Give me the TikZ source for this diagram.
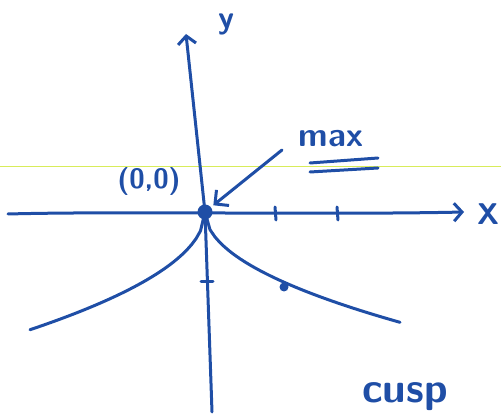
\documentclass[tikz,border=0pt]{standalone}
\usepackage{xcolor}
\usepackage{tikz}
\usetikzlibrary{arrows.meta}
\definecolor{penblue}{HTML}{1F4EA6}
\definecolor{ruleyellow}{HTML}{D8EC5A}

\begin{document}
\begin{tikzpicture}[x=1pt,y=-1pt,
    pen/.style   = {penblue,line width=3pt,line cap=round,line join=round},
    axis/.style  = {pen,-{Straight Barb[length=8pt,width=18pt]}},
    pt/.style    = {pen,-{Straight Barb[length=10pt,width=20pt]},shorten >=3pt},
    dot/.style   = {circle,fill=penblue,inner sep=0pt},
    lab/.style   = {text=penblue,font=\sffamily\bfseries},
  ]
  \useasboundingbox (0,0) rectangle (501,419);

  % faint ruled line of the scan
  \draw[ruleyellow,line width=0.8pt] (0,166) -- (501,166);

  \node[dot,minimum size=15pt] (o) at (205,212) {};
  \coordinate (xl) at (8,214);
  \coordinate (xr) at (464,212);
  \coordinate (yb) at (212,412);
  \coordinate (yt) at (186,34);

  % axes
  \draw[axis] (xl) .. controls (120,211) and (330,215) .. (xr);
  \draw[axis] (yb) -- (o.center) -- (yt);
  \node[lab,font=\sffamily\bfseries\fontsize{30}{30}\selectfont] (xlab) at (488,214) {X};
  \node[lab,font=\sffamily\bfseries\fontsize{32}{32}\selectfont] (ylab) at (226,24) {y};

  % ticks
  \foreach \t in {275,337}
    \draw[pen] (\t,207) -- (\t+1,220);
  \draw[pen] (201,282) -- (213,282);

  % cusp branches
  \draw[pen] plot[domain=0:175,samples=40] ({205-\x},{212+8.9*sqrt(\x)});
  \draw[pen] plot[domain=0:195,samples=40] ({205+\x},{212+7.9*sqrt(\x)});
  \node[dot,minimum size=9pt] (p) at (284,287) {};

  % labels
  \node[lab,font=\sffamily\bfseries\fontsize{28}{28}\selectfont] (orig) at (149,182) {(0,0)};
  \node[lab,font=\sffamily\bfseries\fontsize{34}{34}\selectfont] (mx) at (331,139) {max};
  \draw[pen] (310,163) -- (378,158);
  \draw[pen] (310,172) -- (378,168);
  \coordinate (tail) at (282,150);
  \draw[pt] (tail) -- (o);

  \node[lab,font=\sffamily\bfseries\fontsize{42}{42}\selectfont] (name) at (405,397) {cusp};
\end{tikzpicture}
\end{document}
